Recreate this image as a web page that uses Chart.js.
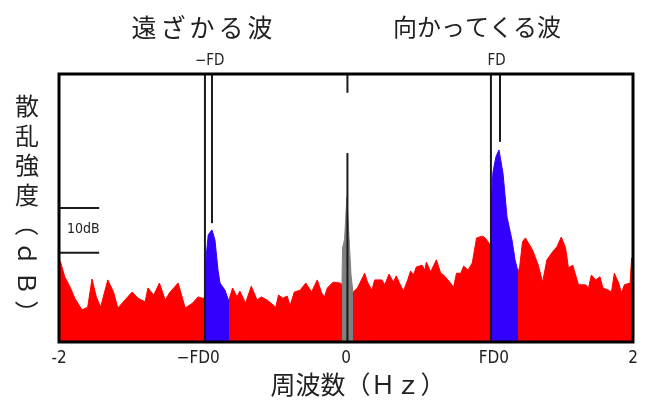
<!DOCTYPE html>
<html lang="ja">
<head>
  <meta charset="UTF-8" />
  <title>散乱強度スペクトル</title>
  <script src="https://cdn.jsdelivr.net/npm/chart.js"></script>
  <style>
    body { margin: 0; background: #fff; }
    #wrap { width: 645px; height: 404px; }
  </style>
</head>
<body>
<div id="wrap"><canvas id="spec" width="645" height="404"></canvas></div>
<script>
  // spectrum (frequency in Hz, scattering intensity in dB)
  const redHz = [-2.00,-1.99,-1.96,-1.92,-1.89,-1.84,-1.80,-1.77,-1.74,-1.71,-1.66,-1.62,-1.59,-1.56,-1.49,-1.45,-1.40,-1.38,-1.34,-1.30,
    -1.26,-1.23,-1.17,-1.12,-1.07,-1.03,-1.00,-0.95,-0.88,-0.82,-0.79,-0.76,-0.74,-0.70,-0.66,-0.62,-0.59,-0.55,-0.49,-0.47,
    -0.44,-0.41,-0.39,-0.36,-0.32,-0.28,-0.24,-0.20,-0.17,-0.15,-0.13,-0.09,-0.04,0.00,0.05,0.08,0.13,0.15,0.18,0.20,
    0.25,0.27,0.30,0.33,0.35,0.37,0.40,0.43,0.45,0.47,0.49,0.53,0.55,0.56,0.59,0.63,0.66,0.68,0.71,0.75,
    0.77,0.80,0.82,0.85,0.88,0.91,0.95,0.97,1.00,1.11,1.20,1.21,1.23,1.25,1.30,1.34,1.37,1.40,1.44,1.47,
    1.50,1.53,1.55,1.58,1.62,1.67,1.69,1.71,1.74,1.77,1.79,1.83,1.85,1.87,1.90,1.92,1.94,1.98,1.99,2.00];
  const redDb = [18.5,18.0,14.6,12.1,9.8,7.2,7.8,14.1,10.1,7.8,13.9,11.2,7.6,8.7,11.2,9.8,9.0,12.1,10.5,13.2,
    9.4,11.0,13.2,7.6,8.7,10.1,9.8,10,10,9.0,12.1,10.1,11.4,8.7,12.5,9.4,10.1,9.4,7.8,10.5,
    9.8,10.3,8.1,11.2,11.6,13.2,11.2,13.9,11.0,10.1,12.1,13.4,13.2,12,11.2,12.1,15.4,13.4,11.6,13.9,
    13.9,12.8,15.2,13.4,14.8,13.4,11.4,13.9,15.9,15.0,16.8,17.2,16.1,17.9,15.7,18.4,15.4,15.0,13.9,12.3,
    15.4,15.4,17.0,16.1,17.7,23.3,23.7,23.3,22,18,15.7,16.8,22.4,23.3,20.6,17.2,13.4,18.4,20.2,21.3,
    23.5,21.1,16.6,17.2,12.8,12.8,12.1,15.0,13.9,14.6,12.1,11.6,11.2,15.4,13.2,11.0,12.8,13.2,18.8,18.8];

  // receding wave peak (-FD)
  const recedeHz = [-0.983,-0.975,-0.96,-0.934,-0.913,-0.892,-0.878,-0.843,-0.815];
  const recedeDb = [10,19,24,25.1,22.8,16.1,13.2,11.6,9.0];
  // approaching wave peak (FD)
  const approachHz = [1.010,1.024,1.045,1.066,1.094,1.122,1.157,1.178,1.199];
  const approachDb = [30,38,41.5,43.0,37.8,28.0,22.8,18.4,15.7];
  // zero-frequency peak
  const zeroHz = [-0.028,-0.024,-0.01,0.006,0.02,0.035,0.049];
  const zeroDb = [13,21,23,32.5,24,15,11];

  // vertical marker lines
  const markerHz = [-0.983, -0.934, 0.01, 0.01, 1.01, 1.073];
  const markerLo = [0, 26.6, 0, 55.8, 0, 44.8];
  const markerHi = [60, 60, 42.3, 60, 60, 60];

  // 10dB scale bar
  const barHz = [-2, -1.72];
  const barDb = [20, 30];

  const tickHz = [-2, -1.03, 0, 1.03, 2];
  const tickText = ["-2", "−FD0", "0", "FD0", "2"];

  const pts = (xs, ys) => xs.map((x, i) => ({ x: x, y: ys[i] }));
  const narrow = '"Liberation Sans Narrow", "DejaVu Sans Condensed", sans-serif';
  const jp = '"Noto Sans CJK JP", sans-serif';

  const datasets = [];
  datasets.push({ data: pts(redHz, redDb), backgroundColor: '#ff0000', borderColor: '#ff0000', borderWidth: 1, fill: 'origin', order: 5 });
  datasets.push({ data: pts(recedeHz, recedeDb), backgroundColor: '#3300ff', borderColor: '#3300ff', borderWidth: 1, fill: 'origin', order: 4 });
  datasets.push({ data: pts(approachHz, approachDb), backgroundColor: '#3300ff', borderColor: '#3300ff', borderWidth: 1, fill: 'origin', order: 4 });
  datasets.push({ data: pts(zeroHz, zeroDb), backgroundColor: '#808080', borderColor: '#808080', borderWidth: 1, fill: 'origin', order: 3 });
  markerHz.forEach((hz, i) => {
    datasets.push({ data: [{ x: hz, y: markerLo[i] }, { x: hz, y: markerHi[i] }], borderColor: '#1a1a1a', borderWidth: 2, fill: false, order: 1 });
  });
  barDb.forEach(db => {
    datasets.push({ data: barHz.map(x => ({ x: x, y: db })), borderColor: '#1a1a1a', borderWidth: 2, fill: false, order: 1 });
  });

  const decorations = {
    id: 'decorations',
    afterDatasetsDraw(chart) {
      const { ctx, chartArea: a } = chart;
      ctx.save();
      ctx.strokeStyle = '#000';
      ctx.lineWidth = 3;
      ctx.strokeRect(a.left, a.top, a.right - a.left, a.bottom - a.top);
      ctx.restore();
    },
    afterDraw(chart) {
      const ctx = chart.ctx;
      const xs = chart.scales.x;
      ctx.save();
      ctx.fillStyle = '#222';
      ctx.textAlign = 'center';
      ctx.textBaseline = 'middle';
      ctx.font = '25px ' + jp;
      ctx.letterSpacing = '4px';
      ctx.fillText('遠ざかる波', 204, 27);
      ctx.letterSpacing = '0px';
      ctx.font = '24px ' + jp;
      ctx.fillText('向かってくる波', 477, 27);
      ctx.font = '15px ' + narrow;
      ctx.fillText('−FD', xs.getPixelForValue(-0.95), 61);
      ctx.fillText('FD', xs.getPixelForValue(1.05), 61);
      ctx.textAlign = 'left';
      ctx.font = '14px ' + narrow;
      ctx.fillText('10dB', 67, 229);
      ctx.textAlign = 'center';
      ctx.font = '25px ' + jp;
      ctx.fillText('周波数（Ｈｚ）', 358, 384);
      // vertical axis title, one character per row
      const yTitle = Array.from('散乱強度（ｄＢ）');
      ctx.font = '24px ' + jp;
      yTitle.forEach((ch, i) => {
        const cy = 106 + i * 29.5;
        ctx.save();
        ctx.translate(27, cy);
        if (/[（）ｄＢ]/.test(ch)) ctx.rotate(Math.PI / 2);
        ctx.fillText(ch, 0, 0);
        ctx.restore();
      });
      ctx.restore();
    }
  };

  new Chart(document.getElementById('spec'), {
    type: 'line',
    data: { datasets: datasets },
    options: {
      responsive: false,
      animation: false,
      layout: { padding: { left: 59, right: 12, top: 74, bottom: 0 } },
      elements: { point: { radius: 0 }, line: { tension: 0 } },
      plugins: { legend: { display: false }, tooltip: { enabled: false } },
      scales: {
        x: {
          type: 'linear', min: -2, max: 2,
          grid: { display: false, drawTicks: false },
          border: { display: false },
          afterBuildTicks(scale) { scale.ticks = tickHz.map(v => ({ value: v })); },
          afterFit(scale) { scale.height = 62; },
          ticks: {
            autoSkip: false, maxRotation: 0, padding: 6, color: '#222',
            font: { family: narrow, size: 17 },
            callback: (v, i) => tickText[i]
          }
        },
        y: { display: false, min: 0, max: 60 }
      }
    },
    plugins: [decorations]
  });
</script>
</body>
</html>
